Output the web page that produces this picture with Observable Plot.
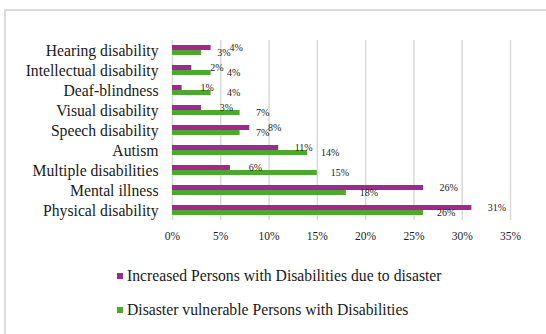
<!DOCTYPE html>
<html>
<head>
<meta charset="utf-8">
<script src="https://cdn.jsdelivr.net/npm/d3@7"></script>
<script src="https://cdn.jsdelivr.net/npm/@observablehq/plot@0.6"></script>
<style>
  html, body { margin: 0; padding: 0; background: #fff; overflow: hidden; }
  #chart { position: relative; width: 546px; height: 334px; font-family: "Liberation Serif", "Times New Roman", serif; }
  #frame { position: absolute; left: 4px; top: 9px; width: 600px; height: 400px;
           border-top: 2px solid #dcdcdc; border-left: 2px solid #dcdcdc; }
  #plot { position: absolute; left: 0; top: 0; }
  #legend { position: absolute; left: 117px; top: 266px; font-size: 15.7px; color: #1a1a1a; }
  .item { display: flex; align-items: center; height: 20px; margin-bottom: 13.5px; white-space: nowrap; }
  .sw { width: 6px; height: 6px; margin-right: 4px; flex: none; }
</style>
</head>
<body>
<div id="chart">
  <div id="frame"></div>
  <div id="plot"></div>
  <div id="legend"></div>
</div>
<script>
// Disability categories, top to bottom
const categories = [
  "Hearing disability",
  "Intellectual disability",
  "Deaf-blindness",
  "Visual disability",
  "Speech disability",
  "Autism",
  "Multiple disabilities",
  "Mental illness",
  "Physical disability"
];
// Share (%) per category for each series
const increased  = [4, 2, 1, 3, 8, 11, 6, 26, 31];
const vulnerable = [3, 4, 4, 7, 7, 14, 15, 18, 26];

const seriesNames = [
  "Increased Persons with Disabilities due to disaster",
  "Disaster vulnerable Persons with Disabilities"
];
const seriesColors = ["#a0298f", "#4ea72e"];
const xTicks = [0, 5, 10, 15, 20, 25, 30, 35];

const rows = categories.map((c, i) => ({ category: c, increased: increased[i], vulnerable: vulnerable[i] }));
const fontFamily = '"Liberation Serif", "Times New Roman", serif';

const plot = Plot.plot({
  width: 546,
  height: 250,
  marginLeft: 172,
  marginRight: 36,
  marginTop: 40,
  marginBottom: 30,
  style: { fontFamily, color: "#1a1a1a", background: "transparent", overflow: "visible" },
  x: { domain: [0, 35], label: null },
  y: { domain: categories, padding: 0, label: null },
  marks: [
    Plot.ruleX(xTicks, { stroke: "#d9d9d9", strokeWidth: 1.5 }),
    Plot.barX(rows, { y: "category", x: "increased", fill: seriesColors[0], insetTop: 5, insetBottom: 10 }),
    Plot.barX(rows, { y: "category", x: "vulnerable", fill: seriesColors[1], insetTop: 10, insetBottom: 5 }),
    Plot.text(rows, { y: "category", x: "increased", text: d => d.increased + "%", dx: 25, dy: -2.5, fontSize: 10, fill: "#1a1a1a" }),
    Plot.text(rows, { y: "category", x: "vulnerable", text: d => d.vulnerable + "%", dx: 22.5, dy: 2.5, fontSize: 10, fill: "#1a1a1a" }),
    Plot.axisX({ ticks: xTicks, tickFormat: d => d + "%", tickSize: 0, tickPadding: 11, fontSize: 11.5, label: null }),
    Plot.axisY({ tickSize: 0, tickPadding: 14, fontSize: 15.7, label: null })
  ]
});
document.getElementById("plot").appendChild(plot);

// Legend: one series per line
const legend = document.getElementById("legend");
seriesNames.forEach((name, i) => {
  const item = document.createElement("div");
  item.className = "item";
  const sw = document.createElement("span");
  sw.className = "sw";
  sw.style.background = seriesColors[i];
  const label = document.createElement("span");
  label.textContent = name;
  item.appendChild(sw);
  item.appendChild(label);
  legend.appendChild(item);
});
</script>
</body>
</html>
